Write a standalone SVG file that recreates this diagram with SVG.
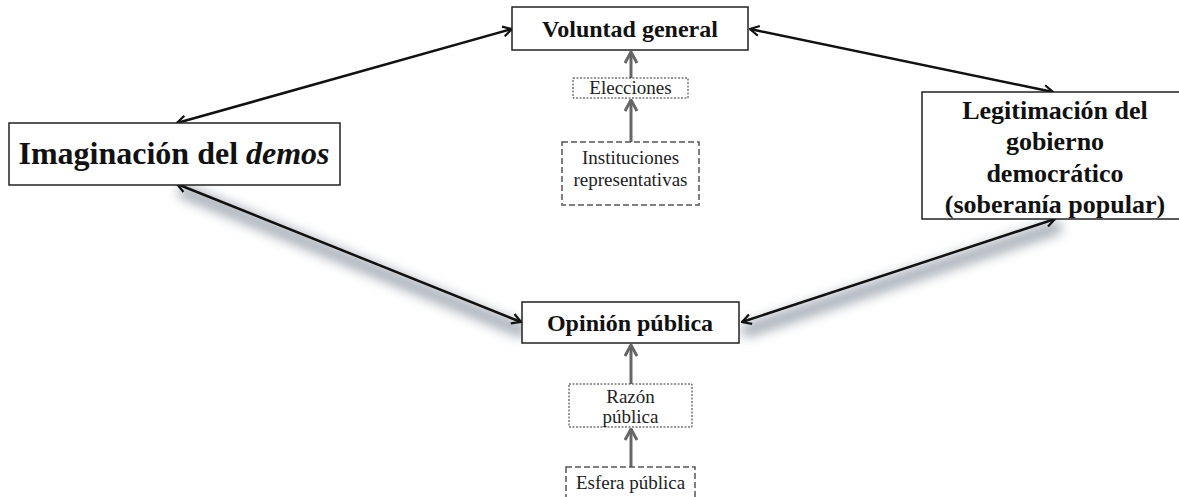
<svg xmlns="http://www.w3.org/2000/svg" width="1179" height="497" viewBox="0 0 1179 497">
<style>
.box{fill:#fff;stroke:#222;stroke-width:1.5}
.dot{fill:#fff;stroke:#333;stroke-width:1;stroke-dasharray:2 1.5}
.dash{fill:#fff;stroke:#555;stroke-width:1.5;stroke-dasharray:6 3}
.big{font-family:"Liberation Serif",serif;font-weight:bold;fill:#111;text-anchor:middle}
.small{font-family:"Liberation Serif",serif;font-size:19px;fill:#222;text-anchor:middle}
.bl{stroke:#111;stroke-width:2.5;fill:none;marker-start:url(#hs);marker-end:url(#he)}
.gr{stroke:#666;stroke-width:3;fill:none;marker-end:url(#hg)}
.sh{stroke:#8c96a2;stroke-width:14;fill:none;opacity:0.75;filter:url(#blur);stroke-linecap:round}
</style>
<defs>
<marker id="he" viewBox="0 0 12 12" refX="11" refY="6" markerWidth="12" markerHeight="12" markerUnits="userSpaceOnUse" orient="auto">
<path d="M2,1 L11,6 L2,11" fill="none" stroke="#111" stroke-width="2.2"/>
</marker>
<marker id="hs" viewBox="0 0 12 12" refX="1" refY="6" markerWidth="12" markerHeight="12" markerUnits="userSpaceOnUse" orient="auto">
<path d="M10,1 L1,6 L10,11" fill="none" stroke="#111" stroke-width="2.2"/>
</marker>
<marker id="hg" viewBox="0 0 14 14" refX="13" refY="7" markerWidth="14" markerHeight="14" markerUnits="userSpaceOnUse" orient="auto">
<path d="M2,1 L13,7 L2,13" fill="none" stroke="#666" stroke-width="3"/>
</marker>
<filter id="blur" x="-20%" y="-50%" width="140%" height="200%">
<feGaussianBlur stdDeviation="6"/>
</filter>
</defs>

<g id="connectors">
<line class="sh" x1="185" y1="192" x2="520" y2="330"/>
<line class="sh" x1="748" y1="330" x2="1055" y2="228"/>
<line class="bl" x1="177" y1="123" x2="512" y2="29"/>
<line class="bl" x1="750" y1="29" x2="1053" y2="92"/>
<line class="bl" x1="177" y1="184" x2="521" y2="322"/>
<line class="bl" x1="742" y1="322" x2="1055" y2="219"/>
<line class="gr" x1="631" y1="78" x2="631" y2="52"/>
<line class="gr" x1="631" y1="142" x2="631" y2="100"/>
<line class="gr" x1="631" y1="384" x2="631" y2="345"/>
<line class="gr" x1="631" y1="467" x2="631" y2="429"/>
</g>

<g id="voluntad">
<rect class="box" x="512" y="7" width="236" height="43"/>
<text class="big" x="630" y="37" font-size="24">Voluntad general</text>
</g>
<g id="elecciones">
<rect class="dot" x="573" y="78" width="115" height="20"/>
<text class="small" x="630.5" y="94">Elecciones</text>
</g>
<g id="instituciones">
<rect class="dash" x="562" y="142" width="137" height="63"/>
<text class="small" x="630.5" y="164">Instituciones</text>
<text class="small" x="630.5" y="186">representativas</text>
</g>
<g id="imaginacion">
<rect class="box" x="9" y="123" width="331" height="62"/>
<text class="big" x="174" y="164" font-size="32">Imaginación del <tspan font-style="italic">demos</tspan></text>
</g>
<g id="legitimacion">
<rect class="box" x="922" y="92" width="262" height="127"/>
<text class="big" x="1055" y="119" font-size="26">Legitimación del</text>
<text class="big" x="1055" y="150" font-size="26">gobierno</text>
<text class="big" x="1055" y="182" font-size="26">democrático</text>
<text class="big" x="1055" y="213" font-size="26">(soberanía popular)</text>
</g>
<g id="opinion">
<rect class="box" x="522" y="302" width="217" height="41"/>
<text class="big" x="630" y="331" font-size="24">Opinión pública</text>
</g>
<g id="razon">
<rect class="dot" x="569" y="384" width="123" height="43"/>
<text class="small" x="630.5" y="403">Razón</text>
<text class="small" x="630.5" y="423">pública</text>
</g>
<g id="esfera">
<rect class="dash" x="566" y="467" width="129" height="36"/>
<text class="small" x="630.5" y="489">Esfera pública</text>
</g>
</svg>
